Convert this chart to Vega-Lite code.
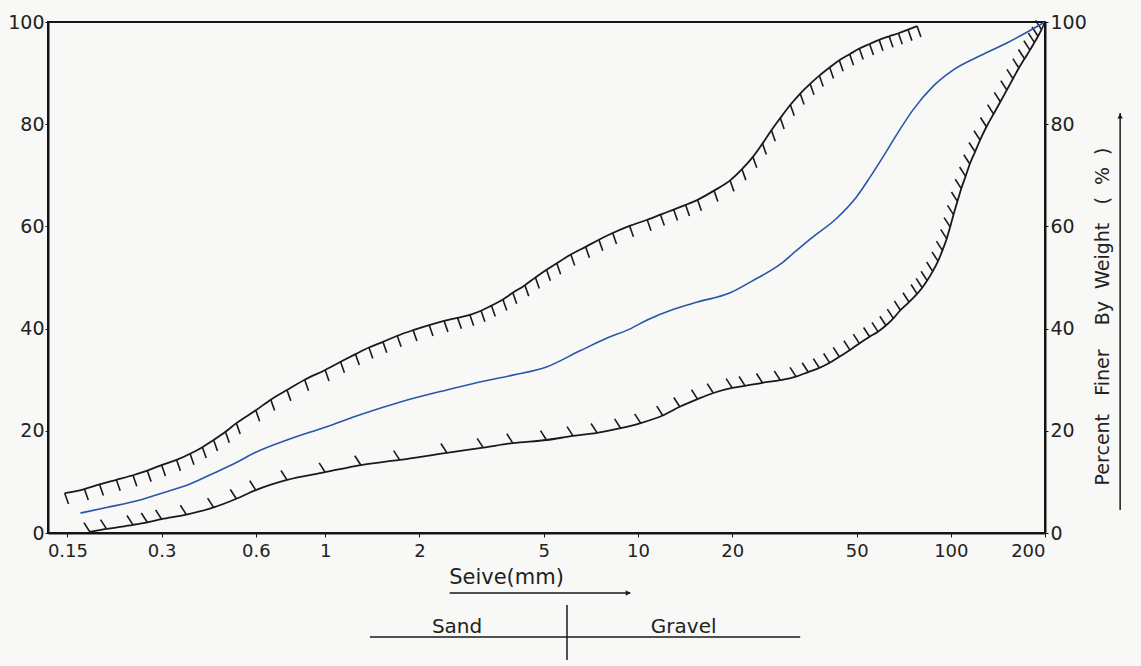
{
  "$schema": "https://vega.github.io/schema/vega-lite/v6.json",
  "width": 997,
  "height": 511,
  "autosize": {"type": "none"},
  "padding": {"left": 48, "top": 22, "right": 96, "bottom": 133},
  "background": "#f8f8f6",
  "config": {
    "font": "DejaVu Sans",
    "view": {"stroke": "#151515", "strokeWidth": 2}
  },
  "datasets": {
    "curves": [
      {"c": "upper", "mm": 0.147, "pct": 7.8},
      {"c": "upper", "mm": 0.17, "pct": 8.6},
      {"c": "upper", "mm": 0.19, "pct": 9.5},
      {"c": "upper", "mm": 0.215, "pct": 10.4},
      {"c": "upper", "mm": 0.243, "pct": 11.3},
      {"c": "upper", "mm": 0.27, "pct": 12.2},
      {"c": "upper", "mm": 0.3, "pct": 13.3},
      {"c": "upper", "mm": 0.335, "pct": 14.3},
      {"c": "upper", "mm": 0.37, "pct": 15.5},
      {"c": "upper", "mm": 0.405, "pct": 16.8},
      {"c": "upper", "mm": 0.44, "pct": 18.2},
      {"c": "upper", "mm": 0.48, "pct": 19.8},
      {"c": "upper", "mm": 0.52, "pct": 21.5},
      {"c": "upper", "mm": 0.6, "pct": 24},
      {"c": "upper", "mm": 0.67, "pct": 26.1},
      {"c": "upper", "mm": 0.755, "pct": 28},
      {"c": "upper", "mm": 0.86, "pct": 30},
      {"c": "upper", "mm": 1.0, "pct": 31.9},
      {"c": "upper", "mm": 1.12, "pct": 33.5},
      {"c": "upper", "mm": 1.25, "pct": 35},
      {"c": "upper", "mm": 1.38, "pct": 36.3},
      {"c": "upper", "mm": 1.53, "pct": 37.4},
      {"c": "upper", "mm": 1.7, "pct": 38.6},
      {"c": "upper", "mm": 1.91, "pct": 39.7},
      {"c": "upper", "mm": 2.15, "pct": 40.7},
      {"c": "upper", "mm": 2.4, "pct": 41.5},
      {"c": "upper", "mm": 2.65, "pct": 42.1},
      {"c": "upper", "mm": 2.9, "pct": 42.7},
      {"c": "upper", "mm": 3.15, "pct": 43.5},
      {"c": "upper", "mm": 3.4, "pct": 44.5},
      {"c": "upper", "mm": 3.7, "pct": 45.7},
      {"c": "upper", "mm": 3.98, "pct": 47},
      {"c": "upper", "mm": 4.35, "pct": 48.5},
      {"c": "upper", "mm": 4.7, "pct": 50},
      {"c": "upper", "mm": 5.1, "pct": 51.5},
      {"c": "upper", "mm": 5.5, "pct": 52.8},
      {"c": "upper", "mm": 6.1, "pct": 54.5},
      {"c": "upper", "mm": 6.8, "pct": 56},
      {"c": "upper", "mm": 7.5, "pct": 57.4},
      {"c": "upper", "mm": 8.3, "pct": 58.7},
      {"c": "upper", "mm": 9.4, "pct": 60.1},
      {"c": "upper", "mm": 10.7, "pct": 61.3},
      {"c": "upper", "mm": 11.8, "pct": 62.3},
      {"c": "upper", "mm": 13, "pct": 63.3},
      {"c": "upper", "mm": 14.2, "pct": 64.2},
      {"c": "upper", "mm": 15.5, "pct": 65.2},
      {"c": "upper", "mm": 17.5, "pct": 67},
      {"c": "upper", "mm": 19.7, "pct": 69},
      {"c": "upper", "mm": 21.5, "pct": 71.2},
      {"c": "upper", "mm": 23.3, "pct": 73.6},
      {"c": "upper", "mm": 25, "pct": 76.2},
      {"c": "upper", "mm": 26.7, "pct": 78.8},
      {"c": "upper", "mm": 28.5, "pct": 81.2},
      {"c": "upper", "mm": 30.7, "pct": 83.8},
      {"c": "upper", "mm": 33, "pct": 86},
      {"c": "upper", "mm": 35.5, "pct": 87.9},
      {"c": "upper", "mm": 38, "pct": 89.5},
      {"c": "upper", "mm": 41, "pct": 91.1},
      {"c": "upper", "mm": 44, "pct": 92.5},
      {"c": "upper", "mm": 47.5, "pct": 93.7},
      {"c": "upper", "mm": 51, "pct": 94.8},
      {"c": "upper", "mm": 55, "pct": 95.7},
      {"c": "upper", "mm": 59, "pct": 96.5},
      {"c": "upper", "mm": 63.5, "pct": 97.2},
      {"c": "upper", "mm": 68, "pct": 97.8},
      {"c": "upper", "mm": 73, "pct": 98.5},
      {"c": "upper", "mm": 78, "pct": 99.2},
      {"c": "lower", "mm": 0.177, "pct": 0.2},
      {"c": "lower", "mm": 0.2, "pct": 0.8},
      {"c": "lower", "mm": 0.243, "pct": 1.6},
      {"c": "lower", "mm": 0.27, "pct": 2.1},
      {"c": "lower", "mm": 0.3, "pct": 2.7},
      {"c": "lower", "mm": 0.36, "pct": 3.6},
      {"c": "lower", "mm": 0.44, "pct": 5.0},
      {"c": "lower", "mm": 0.52, "pct": 6.7},
      {"c": "lower", "mm": 0.6, "pct": 8.4},
      {"c": "lower", "mm": 0.755, "pct": 10.4},
      {"c": "lower", "mm": 1.0, "pct": 11.9},
      {"c": "lower", "mm": 1.3, "pct": 13.3},
      {"c": "lower", "mm": 1.73, "pct": 14.3},
      {"c": "lower", "mm": 2.45, "pct": 15.7},
      {"c": "lower", "mm": 3.2, "pct": 16.7},
      {"c": "lower", "mm": 3.98, "pct": 17.6},
      {"c": "lower", "mm": 5.1, "pct": 18.2},
      {"c": "lower", "mm": 6.2, "pct": 19},
      {"c": "lower", "mm": 7.4, "pct": 19.6},
      {"c": "lower", "mm": 8.8, "pct": 20.5},
      {"c": "lower", "mm": 10.2, "pct": 21.5},
      {"c": "lower", "mm": 12, "pct": 23},
      {"c": "lower", "mm": 13.6, "pct": 24.7},
      {"c": "lower", "mm": 15.5, "pct": 26.2},
      {"c": "lower", "mm": 17.4, "pct": 27.4},
      {"c": "lower", "mm": 20, "pct": 28.4},
      {"c": "lower", "mm": 22, "pct": 28.8},
      {"c": "lower", "mm": 25, "pct": 29.4},
      {"c": "lower", "mm": 28.5, "pct": 29.9},
      {"c": "lower", "mm": 32, "pct": 30.6},
      {"c": "lower", "mm": 35, "pct": 31.5},
      {"c": "lower", "mm": 38, "pct": 32.3},
      {"c": "lower", "mm": 41, "pct": 33.3},
      {"c": "lower", "mm": 44, "pct": 34.5},
      {"c": "lower", "mm": 47.6, "pct": 35.8},
      {"c": "lower", "mm": 51, "pct": 37.1},
      {"c": "lower", "mm": 55, "pct": 38.4},
      {"c": "lower", "mm": 58.5, "pct": 39.4},
      {"c": "lower", "mm": 62, "pct": 40.6},
      {"c": "lower", "mm": 65.5, "pct": 42.0},
      {"c": "lower", "mm": 69, "pct": 43.6},
      {"c": "lower", "mm": 73.5, "pct": 45.2},
      {"c": "lower", "mm": 78, "pct": 46.8},
      {"c": "lower", "mm": 81, "pct": 48.0},
      {"c": "lower", "mm": 84, "pct": 49.4},
      {"c": "lower", "mm": 87.5, "pct": 51.2},
      {"c": "lower", "mm": 91, "pct": 53.2},
      {"c": "lower", "mm": 94, "pct": 55.3},
      {"c": "lower", "mm": 97, "pct": 57.6},
      {"c": "lower", "mm": 99.5, "pct": 59.9},
      {"c": "lower", "mm": 102, "pct": 62.3},
      {"c": "lower", "mm": 105, "pct": 64.9},
      {"c": "lower", "mm": 108, "pct": 67.4},
      {"c": "lower", "mm": 111.5, "pct": 69.8},
      {"c": "lower", "mm": 115, "pct": 72.2},
      {"c": "lower", "mm": 119.5, "pct": 74.6},
      {"c": "lower", "mm": 124, "pct": 76.9},
      {"c": "lower", "mm": 130, "pct": 79.5},
      {"c": "lower", "mm": 137, "pct": 82},
      {"c": "lower", "mm": 144, "pct": 84.4},
      {"c": "lower", "mm": 151, "pct": 86.7},
      {"c": "lower", "mm": 158, "pct": 88.9},
      {"c": "lower", "mm": 165, "pct": 91},
      {"c": "lower", "mm": 172, "pct": 92.8},
      {"c": "lower", "mm": 179, "pct": 94.5},
      {"c": "lower", "mm": 185, "pct": 96},
      {"c": "lower", "mm": 190, "pct": 97.2},
      {"c": "lower", "mm": 195, "pct": 98.5},
      {"c": "mid", "mm": 0.165, "pct": 3.9},
      {"c": "mid", "mm": 0.2, "pct": 5.0},
      {"c": "mid", "mm": 0.243, "pct": 6.1},
      {"c": "mid", "mm": 0.3, "pct": 7.8},
      {"c": "mid", "mm": 0.37, "pct": 9.6},
      {"c": "mid", "mm": 0.44, "pct": 11.7},
      {"c": "mid", "mm": 0.52, "pct": 13.8},
      {"c": "mid", "mm": 0.6, "pct": 15.8},
      {"c": "mid", "mm": 0.755, "pct": 18.2},
      {"c": "mid", "mm": 1.0, "pct": 20.7},
      {"c": "mid", "mm": 1.3, "pct": 23.2},
      {"c": "mid", "mm": 1.73, "pct": 25.6},
      {"c": "mid", "mm": 2.45, "pct": 28},
      {"c": "mid", "mm": 3.2, "pct": 29.7},
      {"c": "mid", "mm": 3.98, "pct": 30.9},
      {"c": "mid", "mm": 5.1, "pct": 32.5},
      {"c": "mid", "mm": 6.5, "pct": 35.6},
      {"c": "mid", "mm": 8, "pct": 38.2},
      {"c": "mid", "mm": 9.4, "pct": 39.9},
      {"c": "mid", "mm": 10.7, "pct": 41.7},
      {"c": "mid", "mm": 13, "pct": 43.8},
      {"c": "mid", "mm": 15.5, "pct": 45.2},
      {"c": "mid", "mm": 19.7, "pct": 47},
      {"c": "mid", "mm": 23, "pct": 49.2},
      {"c": "mid", "mm": 28.5, "pct": 52.6},
      {"c": "mid", "mm": 32, "pct": 55.2},
      {"c": "mid", "mm": 36, "pct": 57.8},
      {"c": "mid", "mm": 43, "pct": 61.5},
      {"c": "mid", "mm": 50, "pct": 65.8},
      {"c": "mid", "mm": 55, "pct": 69.5},
      {"c": "mid", "mm": 60.7, "pct": 73.6},
      {"c": "mid", "mm": 68, "pct": 78.5},
      {"c": "mid", "mm": 75.7, "pct": 82.8},
      {"c": "mid", "mm": 88, "pct": 87.5},
      {"c": "mid", "mm": 101.6, "pct": 90.6},
      {"c": "mid", "mm": 125, "pct": 93.5},
      {"c": "mid", "mm": 151, "pct": 95.9},
      {"c": "mid", "mm": 175, "pct": 98},
      {"c": "mid", "mm": 200, "pct": 100}
    ],
    "notes": [
      {"g": "arrow", "i": 1, "mm": 2.5, "pct": -11.74},
      {"g": "arrow", "i": 2, "mm": 9.45, "pct": -11.74},
      {"g": "base", "i": 1, "mm": 1.39, "pct": -20.35},
      {"g": "base", "i": 2, "mm": 33, "pct": -20.35},
      {"g": "divider", "i": 1, "mm": 5.93, "pct": -14.1},
      {"g": "divider", "i": 2, "mm": 5.93, "pct": -24.85},
      {"g": "vert", "i": 1, "mm": 347.7, "pct": 4.5},
      {"g": "vert", "i": 2, "mm": 347.7, "pct": 82.2},
      {"g": "lowend", "i": 1, "mm": 195, "pct": 98.5},
      {"g": "lowend", "i": 2, "mm": 200, "pct": 100}
    ],
    "heads": [
      {"mm": 9.3, "pct": -11.74, "s": "triangle-right"},
      {"mm": 347.7, "pct": 81.6, "s": "triangle-up"}
    ],
    "labels": [
      {"mm": 2.64, "pct": -19.6, "t": "Sand"},
      {"mm": 14.0, "pct": -19.6, "t": "Gravel"}
    ]
  },
  "encoding": {
    "x": {
      "field": "mm",
      "type": "quantitative",
      "scale": {"type": "log", "domain": [0.13, 200], "nice": false},
      "axis": {
        "values": [0.15, 0.3, 0.6, 1, 2, 5, 10, 20, 50, 100, 200],
        "format": "~g",
        "grid": false,
        "domainColor": "#151515",
        "domainWidth": 2,
        "tickColor": "#151515",
        "tickSize": 4,
        "labelFontSize": 18,
        "labelColor": "#222",
        "labelPadding": 5,
        "title": "Seive(mm)",
        "titleFontSize": 21,
        "titleFontWeight": "normal",
        "titleColor": "#222",
        "titleX": 458,
        "titleY": 44,
        "titleAlign": "center",
        "titleBaseline": "middle"
      }
    },
    "y": {
      "field": "pct",
      "type": "quantitative",
      "scale": {"domain": [0, 100], "nice": false},
      "axis": null
    }
  },
  "resolve": {"axis": {"y": "independent"}},
  "layer": [
    {
      "data": {"name": "curves"},
      "transform": [{"filter": "datum.c === 'upper'"}],
      "mark": {"type": "line", "interpolate": "monotone", "color": "#1a1a1a", "strokeWidth": 1.8},
      "encoding": {
        "y": {
          "field": "pct",
          "type": "quantitative",
          "scale": {"domain": [0, 100], "nice": false},
          "axis": {
            "orient": "left",
            "values": [0, 20, 40, 60, 80, 100],
            "grid": false,
            "domainColor": "#151515",
            "domainWidth": 2,
            "tickColor": "#151515",
            "tickSize": 3,
            "labelFontSize": 19,
            "labelColor": "#222",
            "labelPadding": 1,
            "title": null
          }
        }
      }
    },
    {
      "data": {"name": "curves"},
      "transform": [{"filter": "datum.c === 'upper'"}],
      "mark": {"type": "point", "shape": "M0,0L0.35,1", "filled": false, "stroke": "#1a1a1a", "strokeWidth": 1.6, "size": 480, "opacity": 1}
    },
    {
      "data": {"name": "curves"},
      "transform": [{"filter": "datum.c === 'lower'"}],
      "mark": {"type": "line", "interpolate": "monotone", "color": "#1a1a1a", "strokeWidth": 1.8}
    },
    {
      "data": {"name": "curves"},
      "transform": [{"filter": "datum.c === 'lower'"}],
      "mark": {"type": "point", "shape": "M0,0L-0.55,-0.85", "filled": false, "stroke": "#1a1a1a", "strokeWidth": 1.6, "size": 480, "opacity": 1}
    },
    {
      "data": {"name": "curves"},
      "transform": [{"filter": "datum.c === 'mid'"}],
      "mark": {"type": "line", "interpolate": "monotone", "color": "#2b55a8", "strokeWidth": 1.6},
      "encoding": {
        "y": {
          "field": "pct",
          "type": "quantitative",
          "scale": {"domain": [0, 100], "nice": false},
          "axis": {
            "orient": "right",
            "values": [0, 20, 40, 60, 80, 100],
            "grid": false,
            "domainColor": "#151515",
            "domainWidth": 2,
            "tickColor": "#151515",
            "tickSize": 3,
            "labelFontSize": 19,
            "labelColor": "#222",
            "labelPadding": 2,
            "title": "Percent\u00a0\u00a0\u00a0Finer\u00a0\u00a0\u00a0\u00a0By\u00a0\u00a0Weight\u00a0\u00a0\u00a0(\u00a0\u00a0%\u00a0\u00a0)",
            "titleFontSize": 19,
            "titleFontWeight": "normal",
            "titleColor": "#222",
            "titleAngle": 270,
            "titleX": 57,
            "titleY": 294,
            "titleAlign": "center",
            "titleBaseline": "middle"
          }
        }
      }
    },
    {
      "data": {"name": "notes"},
      "mark": {"type": "line", "color": "#1a1a1a", "strokeWidth": 1.5},
      "encoding": {
        "detail": {"field": "g"},
        "order": {"field": "i"}
      }
    },
    {
      "data": {"name": "heads"},
      "mark": {"type": "point", "filled": true, "color": "#1a1a1a", "size": 30, "opacity": 1},
      "encoding": {
        "shape": {"field": "s", "type": "nominal", "scale": null}
      }
    },
    {
      "data": {"name": "labels"},
      "mark": {"type": "text", "fontSize": 20, "color": "#222", "baseline": "alphabetic", "align": "center"},
      "encoding": {
        "text": {"field": "t"}
      }
    }
  ]
}
